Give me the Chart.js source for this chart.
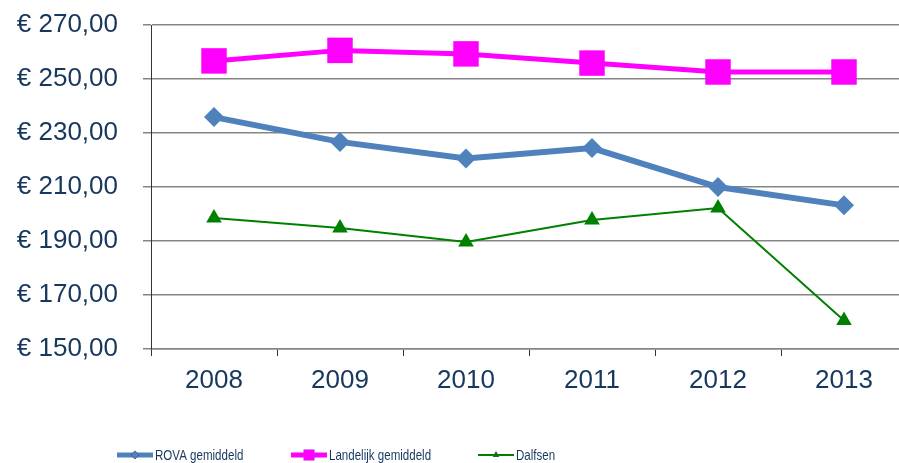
<!DOCTYPE html>
<html>
<head>
<meta charset="utf-8">
<script src="https://cdn.jsdelivr.net/npm/chart.js@4.4.0/dist/chart.umd.min.js"></script>
<style>
  html, body { margin: 0; padding: 0; background: #fff; overflow: hidden; }
  #wrap { width: 925px; height: 463px; }
</style>
</head>
<body>
<div id="wrap"><canvas id="afval-chart" width="925" height="463"></canvas></div>
<script>
;(function(){
  const years = ['2008', '2009', '2010', '2011', '2012', '2013']
  const rova = [235.9, 226.7, 220.6, 224.4, 210.0, 203.2]
  const landelijk = [256.7, 260.6, 259.3, 255.9, 252.6, 252.6]
  const dalfsen = [198.5, 194.8, 189.6, 197.8, 202.2, 160.6]

  const labelColor = '#17375E'
  const gridColor = '#858585'

  // legend drawn by hand: line + marker + text, like the office chart
  const lineLegend = {
    id: 'lineLegend',
    afterDraw(chart) {
      const ctx = chart.ctx
      const spots = [117, 291, 478]
      const y = 455
      ctx.save()
      chart.data.datasets.forEach((ds, i) => {
        const x = spots[i]
        ctx.strokeStyle = ds.borderColor
        ctx.lineWidth = Math.min(ds.borderWidth, 5)
        ctx.beginPath()
        ctx.moveTo(x, y)
        ctx.lineTo(x + 36, y)
        ctx.stroke()
        Chart.helpers.drawPoint(ctx, {
          pointStyle: ds.pointStyle,
          radius: ds.pointRadius * 0.42,
          borderWidth: 0,
        }, x + 18, y)
        ctx.fillStyle = ds.pointBackgroundColor
        ctx.fill()
        // the legend text is squeezed sideways in the original
        ctx.save()
        ctx.translate(x + 38, y + 1)
        ctx.scale(0.77, 1)
        ctx.fillStyle = labelColor
        ctx.font = '15px "Liberation Sans", Arial, sans-serif'
        ctx.textBaseline = 'middle'
        ctx.textAlign = 'left'
        ctx.fillText(ds.label, 0, 0)
        ctx.restore()
      })
      ctx.restore()
    }
  }

  const config = {
    type: 'line',
    data: {
      labels: years,
      datasets: [
        {
          label: 'ROVA gemiddeld',
          data: rova,
          borderColor: '#4F81BD',
          backgroundColor: '#4F81BD',
          pointBackgroundColor: '#4F81BD',
          borderWidth: 6,
          pointStyle: 'rectRot',
          pointRadius: 10,
          pointBorderWidth: 0,
        },
        {
          label: 'Landelijk gemiddeld',
          data: landelijk,
          borderColor: '#FF00FF',
          backgroundColor: '#FF00FF',
          pointBackgroundColor: '#FF00FF',
          borderWidth: 5,
          pointStyle: 'rect',
          pointRadius: 18,
          pointBorderWidth: 0,
        },
        {
          label: 'Dalfsen',
          data: dalfsen,
          borderColor: '#008000',
          backgroundColor: '#008000',
          pointBackgroundColor: '#008000',
          borderWidth: 2,
          pointStyle: 'triangle',
          pointRadius: 9,
          pointBorderWidth: 0,
        },
      ],
    },
    options: {
      responsive: false,
      animation: false,
      layout: { padding: { top: 25, right: 6, left: 0, bottom: 0 } },
      plugins: {
        legend: { display: false },
        tooltip: { enabled: false },
      },
      elements: { line: { tension: 0 } },
      scales: {
        x: {
          offset: true,
          grid: {
            display: true,
            drawOnChartArea: false,
            drawTicks: true,
            tickLength: 7,
            color: '#333',
            lineWidth: 1,
            offset: true,
          },
          border: { color: gridColor, width: 1.5 },
          ticks: {
            color: labelColor,
            padding: 9,
            font: { family: '"Liberation Sans", Arial, sans-serif', size: 26 },
          },
          afterFit(scale) { scale.height = 114 },
        },
        y: {
          min: 150,
          max: 270,
          grid: {
            color: gridColor,
            lineWidth: 1.5,
            tickLength: 8,
            drawTicks: true,
          },
          border: { color: '#333', width: 1 },
          ticks: {
            stepSize: 20,
            color: labelColor,
            padding: 25,
            font: { family: '"Liberation Sans", Arial, sans-serif', size: 26 },
            callback: (v) => '\u20AC ' + v.toFixed(2).replace('.', ','),
          },
          afterFit(scale) {
            scale.width = 151
            scale.paddingTop = 0
            scale.paddingBottom = 0
          },
        },
      },
    },
    plugins: [lineLegend],
  }

  const ctx = document.getElementById('afval-chart')
  let chart = new Chart(ctx, config)
})()
</script>
</body>
</html>
